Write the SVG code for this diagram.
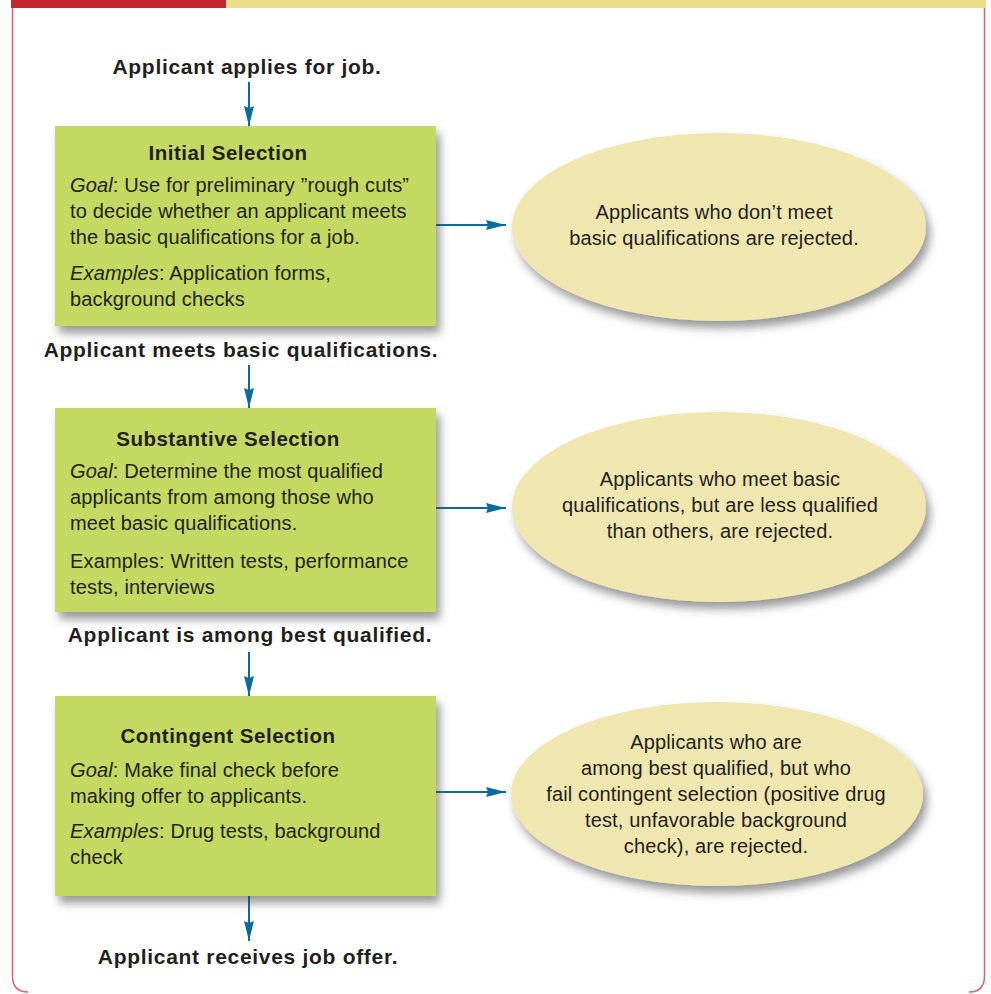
<svg xmlns="http://www.w3.org/2000/svg" width="991" height="994" viewBox="0 0 991 994">
<style>
text{font-family:"Liberation Sans",Arial,sans-serif;fill:#231f20;}
.lbl{font-weight:bold;font-size:21px;letter-spacing:0.7px;text-anchor:middle;}
.ttl{font-weight:bold;font-size:20.5px;letter-spacing:0.5px;text-anchor:middle;}
.body{font-size:20px;letter-spacing:0.15px;}
.ell{font-size:20px;letter-spacing:0.15px;text-anchor:middle;}
.box{fill:#c3d962;filter:url(#sh);}
.oval{fill:#f0e6b0;filter:url(#sh);}
.con{stroke:#0b6b9c;stroke-width:2;fill:none;marker-end:url(#ah);}
</style>
<defs>
<filter id="sh" x="-10%" y="-10%" width="130%" height="140%">
<feDropShadow dx="4" dy="7" stdDeviation="5" flood-color="#444" flood-opacity="0.55"/>
</filter>
<marker id="ah" viewBox="0 0 20 10" refX="20" refY="5" markerWidth="10" markerHeight="5" markerUnits="strokeWidth" orient="auto">
<path d="M0,0 L20,5 L0,10 L2,5 Z" fill="#0b6b9c"/>
</marker>
</defs>
<g id="frame">
<rect x="11" y="0" width="215" height="8" fill="#c4262e"/>
<rect x="226" y="0" width="760" height="8" fill="#ecdd8a"/>
<path d="M12.5,8 V976 Q12.5,992 28,992 M984.5,8 V976 Q984.5,992 969,992" fill="none" stroke="#d6646a" stroke-width="1.5"/>
</g>
<g id="connectors">
<line class="con" x1="249" y1="82" x2="249" y2="126"/>
<line class="con" x1="249" y1="365" x2="249" y2="408"/>
<line class="con" x1="249" y1="652" x2="249" y2="696"/>
<line class="con" x1="249" y1="896" x2="249" y2="941"/>
<line class="con" x1="436" y1="225" x2="506" y2="225"/>
<line class="con" x1="436" y1="508" x2="506" y2="508"/>
<line class="con" x1="436" y1="792" x2="506" y2="792"/>
</g>
<g id="start"><text class="lbl" x="247" y="74">Applicant applies for job.</text></g>
<g id="initial">
<rect class="box" x="55" y="126" width="381" height="200"/>
<text class="ttl" x="228" y="160">Initial Selection</text>
<text class="body" x="70" y="192"><tspan font-style="italic">Goal</tspan>: Use for preliminary ”rough cuts”</text>
<text class="body" x="70" y="218">to decide whether an applicant meets</text>
<text class="body" x="70" y="244">the basic qualifications for a job.</text>
<text class="body" x="70" y="280"><tspan font-style="italic">Examples</tspan>: Application forms,</text>
<text class="body" x="70" y="306">background checks</text>
</g>
<g id="meets"><text class="lbl" x="241" y="357">Applicant meets basic qualifications.</text></g>
<g id="reject1">
<ellipse class="oval" cx="719" cy="227" rx="207" ry="94"/>
<text class="ell" x="714" y="219">Applicants who don’t meet</text>
<text class="ell" x="714" y="245">basic qualifications are rejected.</text>
</g>
<g id="substantive">
<rect class="box" x="55" y="408" width="381" height="204"/>
<text class="ttl" x="228" y="446">Substantive Selection</text>
<text class="body" x="70" y="478"><tspan font-style="italic">Goal</tspan>: Determine the most qualified</text>
<text class="body" x="70" y="504">applicants from among those who</text>
<text class="body" x="70" y="530">meet basic qualifications.</text>
<text class="body" x="70" y="568">Examples: Written tests, performance</text>
<text class="body" x="70" y="594">tests, interviews</text>
</g>
<g id="best"><text class="lbl" x="250" y="642">Applicant is among best qualified.</text></g>
<g id="reject2">
<ellipse class="oval" cx="719" cy="507" rx="207" ry="95"/>
<text class="ell" x="720" y="486">Applicants who meet basic</text>
<text class="ell" x="720" y="512">qualifications, but are less qualified</text>
<text class="ell" x="720" y="538">than others, are rejected.</text>
</g>
<g id="contingent">
<rect class="box" x="55" y="696" width="381" height="200"/>
<text class="ttl" x="228" y="743">Contingent Selection</text>
<text class="body" x="70" y="777"><tspan font-style="italic">Goal</tspan>: Make final check before</text>
<text class="body" x="70" y="803">making offer to applicants.</text>
<text class="body" x="70" y="838"><tspan font-style="italic">Examples</tspan>: Drug tests, background</text>
<text class="body" x="70" y="864">check</text>
</g>
<g id="offer"><text class="lbl" x="248" y="964">Applicant receives job offer.</text></g>
<g id="reject3">
<ellipse class="oval" cx="717" cy="794" rx="206" ry="92"/>
<text class="ell" x="716" y="749">Applicants who are</text>
<text class="ell" x="716" y="775">among best qualified, but who</text>
<text class="ell" x="716" y="801">fail contingent selection (positive drug</text>
<text class="ell" x="716" y="827">test, unfavorable background</text>
<text class="ell" x="716" y="853">check), are rejected.</text>
</g>
</svg>
